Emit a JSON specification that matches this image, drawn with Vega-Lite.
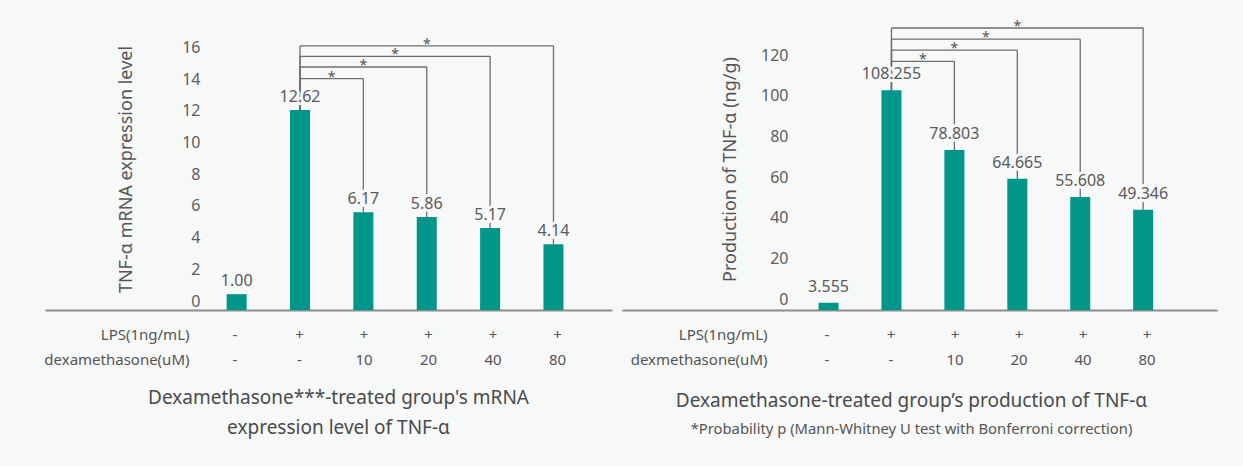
{
  "$schema": "https://vega.github.io/schema/vega-lite/v6.json",
  "background": "#f7f8f8",
  "padding": {"left": 43, "top": 20, "right": 30, "bottom": 32},
  "bounds": "flush",
  "columns": 2,
  "spacing": {"column": 10, "row": 12},
  "resolve": {"scale": {"x": "independent", "y": "independent"}},
  "config": {
    "font": "Noto Sans",
    "view": {"stroke": null},
    "axis": {"grid": false}
  },
  "datasets": {
    "barsL": [
      {"g": 1, "lps": "-", "dex": "-", "value": 1.00},
      {"g": 2, "lps": "+", "dex": "-", "value": 12.62},
      {"g": 3, "lps": "+", "dex": "10", "value": 6.17},
      {"g": 4, "lps": "+", "dex": "20", "value": 5.86},
      {"g": 5, "lps": "+", "dex": "40", "value": 5.17},
      {"g": 6, "lps": "+", "dex": "80", "value": 4.14}
    ],
    "bracketsL": [
      {"from": 2, "to": 3, "level": 14.6},
      {"from": 2, "to": 4, "level": 15.33},
      {"from": 2, "to": 5, "level": 16.0},
      {"from": 2, "to": 6, "level": 16.66}
    ],
    "barsR": [
      {"g": 1, "lps": "-", "dex": "-", "value": 3.555},
      {"g": 2, "lps": "+", "dex": "-", "value": 108.255},
      {"g": 3, "lps": "+", "dex": "10", "value": 78.803},
      {"g": 4, "lps": "+", "dex": "20", "value": 64.665},
      {"g": 5, "lps": "+", "dex": "40", "value": 55.608},
      {"g": 6, "lps": "+", "dex": "80", "value": 49.346}
    ],
    "bracketsR": [
      {"from": 2, "to": 3, "level": 122.5},
      {"from": 2, "to": 4, "level": 128.0},
      {"from": 2, "to": 5, "level": 133.4},
      {"from": 2, "to": 6, "level": 138.9}
    ]
  },
  "concat": [
    {
      "width": 567,
      "height": 282,
      "layer": [
        {
          "data": {"name": "bracketsL"},
          "mark": {"type": "rule", "color": "#6e6e6e", "strokeWidth": 1.3},
          "encoding": {
            "x": {"field": "from", "type": "quantitative", "scale": {"domain": [-1.946, 6.845], "nice": false, "zero": false},
              "axis": {"labels": false, "ticks": false, "title": null, "domainColor": "#8c8c8c", "domainWidth": 2}},
            "x2": {"field": "to"},
            "y": {"field": "level", "type": "quantitative", "scale": {"domain": [0, 17.79], "nice": false},
              "axis": {"values": [0, 2, 4, 6, 8, 10, 12, 14, 16], "tickCount": 20, "labelOverlap": false, "domain": false, "ticks": false, "offset": -157, "labelPadding": 2,
                "labelFontSize": 16, "labelColor": "#5c5c5c", "labelOffset": -9,
                "title": "TNF-α mRNA expression level", "titleFontSize": 18, "titleFontWeight": "normal", "titleColor": "#555555", "titlePadding": 46}}
          }
        },
        {
          "data": {"name": "bracketsL"},
          "transform": [{"lookup": "to", "from": {"data": {"name": "barsL"}, "key": "g", "fields": ["value"]}, "as": ["toValue"]}],
          "mark": {"type": "rule", "color": "#6e6e6e", "strokeWidth": 1.3},
          "encoding": {
            "x": {"field": "to", "type": "quantitative"},
            "y": {"field": "toValue", "type": "quantitative"},
            "y2": {"field": "level"}
          }
        },
        {
          "data": {"name": "bracketsL"},
          "transform": [{"lookup": "from", "from": {"data": {"name": "barsL"}, "key": "g", "fields": ["value"]}, "as": ["fromValue"]}],
          "mark": {"type": "rule", "color": "#6e6e6e", "strokeWidth": 1.3},
          "encoding": {
            "x": {"field": "from", "type": "quantitative"},
            "y": {"field": "fromValue", "type": "quantitative"},
            "y2": {"field": "level"}
          }
        },
        {
          "data": {"name": "barsL"},
          "mark": {"type": "bar", "size": 20, "color": "#00968a"},
          "encoding": {
            "x": {"field": "g", "type": "quantitative"},
            "y": {"field": "value", "type": "quantitative"}
          }
        },
        {
          "data": {"name": "barsL"},
          "mark": {"type": "text", "fontSize": 16, "dy": -8, "baseline": "alphabetic", "fill": "#f7f8f8", "stroke": "#f7f8f8", "strokeWidth": 6},
          "encoding": {
            "x": {"field": "g", "type": "quantitative"},
            "y": {"field": "value", "type": "quantitative"},
            "text": {"field": "value", "format": ".2f"}
          }
        },
        {
          "data": {"name": "barsL"},
          "mark": {"type": "text", "fontSize": 16, "dy": -8, "baseline": "alphabetic", "color": "#5a5a5a"},
          "encoding": {
            "x": {"field": "g", "type": "quantitative"},
            "y": {"field": "value", "type": "quantitative"},
            "text": {"field": "value", "format": ".2f"}
          }
        },
        {
          "data": {"name": "bracketsL"},
          "transform": [{"calculate": "(datum.from + datum.to) / 2", "as": "mid"}],
          "mark": {"type": "text", "text": "*", "fontSize": 14, "dy": 3, "baseline": "alphabetic", "color": "#555555"},
          "encoding": {
            "x": {"field": "mid", "type": "quantitative"},
            "y": {"field": "level", "type": "quantitative"}
          }
        }
      ]
    },
    {
      "width": 595,
      "height": 282,
      "layer": [
        {
          "data": {"name": "bracketsR"},
          "mark": {"type": "rule", "color": "#6e6e6e", "strokeWidth": 1.3},
          "encoding": {
            "x": {"field": "from", "type": "quantitative", "scale": {"domain": [-2.203, 7.094], "nice": false, "zero": false},
              "axis": {"labels": false, "ticks": false, "title": null, "domainColor": "#8c8c8c", "domainWidth": 2}},
            "x2": {"field": "to"},
            "y": {"field": "level", "type": "quantitative", "scale": {"domain": [0, 138.9], "nice": false},
              "axis": {"values": [0, 20, 40, 60, 80, 100, 120], "tickCount": 20, "labelOverlap": false, "domain": false, "ticks": false, "offset": -168, "labelPadding": 2,
                "labelFontSize": 16, "labelColor": "#5c5c5c", "labelOffset": -11,
                "title": "Production of TNF-α (ng/g)", "titleFontSize": 18, "titleFontWeight": "normal", "titleColor": "#555555", "titlePadding": 21}}
          }
        },
        {
          "data": {"name": "bracketsR"},
          "transform": [{"lookup": "to", "from": {"data": {"name": "barsR"}, "key": "g", "fields": ["value"]}, "as": ["toValue"]}],
          "mark": {"type": "rule", "color": "#6e6e6e", "strokeWidth": 1.3},
          "encoding": {
            "x": {"field": "to", "type": "quantitative"},
            "y": {"field": "toValue", "type": "quantitative"},
            "y2": {"field": "level"}
          }
        },
        {
          "data": {"name": "bracketsR"},
          "transform": [{"lookup": "from", "from": {"data": {"name": "barsR"}, "key": "g", "fields": ["value"]}, "as": ["fromValue"]}],
          "mark": {"type": "rule", "color": "#6e6e6e", "strokeWidth": 1.3},
          "encoding": {
            "x": {"field": "from", "type": "quantitative"},
            "y": {"field": "fromValue", "type": "quantitative"},
            "y2": {"field": "level"}
          }
        },
        {
          "data": {"name": "barsR"},
          "mark": {"type": "bar", "size": 20, "color": "#00968a"},
          "encoding": {
            "x": {"field": "g", "type": "quantitative"},
            "y": {"field": "value", "type": "quantitative"}
          }
        },
        {
          "data": {"name": "barsR"},
          "mark": {"type": "text", "fontSize": 16, "dy": -11, "baseline": "alphabetic", "fill": "#f7f8f8", "stroke": "#f7f8f8", "strokeWidth": 6},
          "encoding": {
            "x": {"field": "g", "type": "quantitative"},
            "y": {"field": "value", "type": "quantitative"},
            "text": {"field": "value", "format": ".3f"}
          }
        },
        {
          "data": {"name": "barsR"},
          "mark": {"type": "text", "fontSize": 16, "dy": -11, "baseline": "alphabetic", "color": "#5a5a5a"},
          "encoding": {
            "x": {"field": "g", "type": "quantitative"},
            "y": {"field": "value", "type": "quantitative"},
            "text": {"field": "value", "format": ".3f"}
          }
        },
        {
          "data": {"name": "bracketsR"},
          "transform": [{"calculate": "(datum.from + datum.to) / 2", "as": "mid"}],
          "mark": {"type": "text", "text": "*", "fontSize": 14, "dy": 3, "baseline": "alphabetic", "color": "#555555"},
          "encoding": {
            "x": {"field": "mid", "type": "quantitative"},
            "y": {"field": "level", "type": "quantitative"}
          }
        }
      ]
    },
    {
      "width": 567,
      "height": 50,
      "data": {"name": "barsL"},
      "transform": [{"fold": ["lps", "dex"], "as": ["row", "val"]}],
      "mark": {"type": "text", "fontSize": 15, "color": "#555555"},
      "encoding": {
        "x": {"field": "g", "type": "quantitative", "scale": {"domain": [-1.946, 6.845], "nice": false, "zero": false}, "axis": null},
        "y": {"field": "row", "type": "nominal", "scale": {"domain": ["lps", "dex"]},
          "axis": {"domain": false, "ticks": false, "offset": -146, "labelPadding": 2, "labelFontSize": 15, "labelColor": "#555555", "title": null,
            "labelExpr": "datum.value == 'lps' ? 'LPS(1ng/mL)' : 'dexamethasone(uM)'"}},
        "text": {"field": "val"}
      },
      "title": {"text": ["Dexamethasone***-treated group's mRNA", "expression level of TNF-α"], "orient": "bottom", "anchor": "middle",
        "fontSize": 19, "fontWeight": "normal", "color": "#4a4a4a", "lineHeight": 30, "offset": 17, "dx": 10}
    },
    {
      "width": 595,
      "height": 50,
      "data": {"name": "barsR"},
      "transform": [{"fold": ["lps", "dex"], "as": ["row", "val"]}],
      "mark": {"type": "text", "fontSize": 15, "color": "#555555"},
      "encoding": {
        "x": {"field": "g", "type": "quantitative", "scale": {"domain": [-2.203, 7.094], "nice": false, "zero": false}, "axis": null},
        "y": {"field": "row", "type": "nominal", "scale": {"domain": ["lps", "dex"]},
          "axis": {"domain": false, "ticks": false, "offset": -147, "labelPadding": 2, "labelFontSize": 15, "labelColor": "#555555", "title": null,
            "labelExpr": "datum.value == 'lps' ? 'LPS(1ng/mL)' : 'dexmethasone(uM)'"}},
        "text": {"field": "val"}
      },
      "title": {"text": "Dexamethasone-treated group’s production of TNF-α", "subtitle": "*Probability p (Mann-Whitney U test with Bonferroni correction)",
        "orient": "bottom", "anchor": "middle", "fontSize": 19, "fontWeight": "normal", "color": "#4a4a4a",
        "subtitleFontSize": 14.8, "subtitleColor": "#555555", "subtitlePadding": 11, "offset": 20, "dx": -8}
    }
  ]
}
